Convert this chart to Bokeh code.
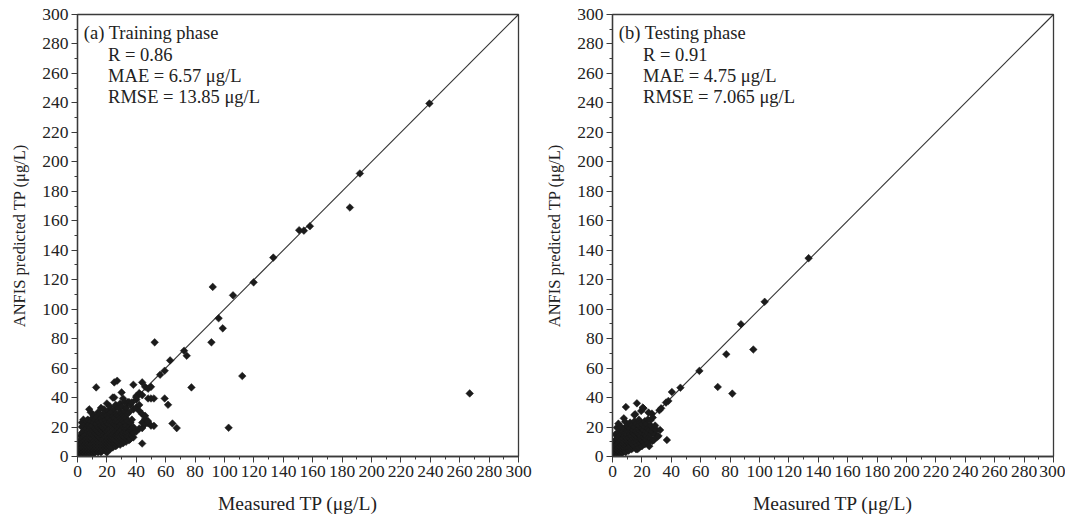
import math
from bokeh.plotting import figure
from bokeh.layouts import row
from bokeh.models import Range1d, SingleIntervalTicker, Label
from bokeh.embed import file_html
from bokeh.resources import INLINE

# ---------------- data ----------------
train_measured = [
    1, 1, 1, 1, 1,
    2, 2, 2, 2, 2, 2,
    3, 3, 3, 3, 3, 3, 3, 3, 3,
    4, 4, 4, 4, 4, 4, 4, 4, 4,
    5, 5, 5, 5, 5, 5, 5, 5,
    6, 6, 6, 6, 6, 6, 6, 6, 6,
    7, 7, 7, 7, 7, 7, 7, 7, 7,
    8, 8, 8, 8, 8, 8, 8, 8, 8, 8,
    9, 9, 9, 9, 9, 9, 9, 9, 9, 9,
    10, 10, 10, 10, 10, 10, 10, 10, 10,
    11, 11, 11, 11, 11, 11, 11, 11, 11,
    12, 12, 12, 12, 12, 12, 12, 12, 12, 12.7,
    13, 13, 13, 13, 13, 13, 13, 13, 13,
    14, 14, 14, 14, 14, 14, 14, 14, 14, 14,
    15, 15, 15, 15, 15, 15, 15, 15, 15,
    16, 16, 16, 16, 16, 16, 16, 16, 16, 16,
    17, 17, 17, 17, 17, 17, 17, 17, 17,
    18, 18, 18, 18, 18, 18, 18, 18, 18,
    19, 19, 19, 19, 19, 19, 19, 19, 19, 19,
    20, 20, 20, 20, 20, 20, 20, 20, 20, 20, 20,
    21, 21, 21, 21, 21, 21, 21, 21, 21,
    22, 22, 22, 22, 22, 22, 22, 22, 22, 22,
    23, 23, 23, 23, 23, 23, 23, 23, 23,
    24, 24, 24, 24, 24, 24, 24, 24, 24, 24,
    25, 25, 25, 25, 25, 25, 25, 25, 25, 25,
    26, 26, 26, 26, 26, 26, 26, 26, 26,
    27, 27, 27, 27, 27, 27, 27, 27, 27,
    28, 28, 28, 28, 28, 28, 28, 28,
    29, 29, 29, 29, 29, 29, 29, 29,
    30, 30, 30, 30, 30, 30, 30, 30, 30,
    31, 31, 31, 31, 31, 31, 31, 31,
    32, 32, 32, 32, 32, 32, 32, 32,
    33, 33, 33, 33, 33, 33, 33,
    34, 34, 34, 34, 34, 34, 34,
    35, 35, 35, 35, 35, 35,
    36, 36, 36, 36, 36,
    37, 37, 37, 37, 37,
    38, 38, 38, 38, 38,
    40, 40, 40, 40, 40,
    42, 42, 42, 42,
    44, 44, 44, 44, 44, 44,
    46, 46, 46, 46,
    48, 48, 48, 48,
    50, 50, 50,
    52, 52,
    52.5, 56.2, 59.3, 59.3, 61.6, 63.0, 64.6, 67.5, 72.5, 74.3, 77.5,
    91.1, 92.0, 96.0, 98.8, 102.8, 105.8, 112.1, 119.8, 133.2,
    150.8, 154.0, 158.1, 185.3, 192.1, 239.4, 266.8,
]
train_predicted = [
    0.5, 2, 4, 6, 9,
    1, 3, 5, 8, 11, 14,
    0.5, 2, 4, 6, 9, 12, 16, 20, 23,
    1, 3, 5, 7, 10, 13, 17, 21, 25,
    2, 4, 6, 8, 11, 14, 18, 22,
    1, 3, 5, 7, 9, 12, 15, 19, 24,
    2, 4, 6, 8, 10, 13, 17, 21, 25,
    1, 3, 5, 7, 9, 12, 14, 18, 22, 32,
    2, 4, 6, 8, 11, 13, 16, 20, 24, 30,
    3, 5, 7, 9, 12, 15, 18, 21, 26,
    2, 4, 6, 8, 10, 14, 17, 23, 28,
    3, 5, 7, 9, 11, 13, 16, 19, 25, 46.9,
    4, 6, 8, 10, 12, 15, 18, 22, 27,
    3, 5, 7, 9, 11, 14, 17, 20, 24, 30,
    4, 6, 8, 10, 13, 16, 19, 23, 29,
    3, 5, 7, 9, 12, 15, 18, 21, 26, 33,
    4, 6, 8, 11, 14, 17, 20, 24, 28,
    5, 7, 9, 12, 15, 19, 22, 27, 32,
    4, 6, 8, 10, 13, 16, 18, 21, 25, 30,
    2.7, 5, 7, 9, 11, 14, 17, 20, 23, 28, 36,
    6, 8, 10, 12, 15, 18, 22, 26, 31,
    5, 7, 9, 11, 13, 16, 19, 24, 29, 34,
    6, 8, 10, 12, 14, 17, 21, 25, 30,
    6.1, 9, 11, 13, 15, 18, 20, 23, 27, 40,
    8.4, 10, 12, 16, 19, 22, 26, 32, 40, 50.3,
    7, 9, 11, 14, 17, 21, 24, 29, 35,
    8, 10, 13, 15, 18, 20, 25, 28, 51.4,
    9, 12, 14, 16, 19, 23, 27, 33,
    8, 11, 13, 17, 21, 26, 30, 36,
    10, 12, 15, 18, 22, 25, 29, 34, 43.5,
    9, 11, 14, 16, 20, 24, 28, 39.4,
    11, 13, 17, 19, 23, 27, 31, 37,
    10, 12, 15, 18, 21, 26, 33,
    12, 14, 16, 19, 24, 29, 36.7,
    11, 13, 17, 20, 30, 37,
    12, 15, 18, 23, 35,
    14, 17.9, 19, 25, 36.7,
    13, 16, 20, 32, 48.7,
    17, 33.3, 38.5, 41, 40,
    19, 31, 35, 43,
    8.8, 19.3, 23, 28.8, 41.7, 50.3,
    22, 25.4, 27.6, 47.3,
    22.6, 24, 39.4, 46,
    21, 39.4, 47.3,
    20.8, 39.4,
    77.5, 55.5, 58.2, 39.4, 35.1, 65.2, 22.4, 19.3, 71.8, 68.4, 46.9,
    77.5, 115.1, 93.8, 87.0, 19.5, 109.4, 54.6, 118.2, 135.0,
    153.6, 153.3, 156.3, 169.0, 192.1, 239.6, 42.8,
]

test_measured = [
    1, 1, 1, 1,
    2, 2, 2, 2, 2,
    3, 3, 3, 3, 3, 3,
    4, 4, 4, 4, 4, 4, 4,
    5, 5, 5, 5, 5, 5,
    6, 6, 6, 6, 6, 6, 6,
    7, 7, 7, 7, 7, 7.7,
    8, 8, 8, 8, 8, 8, 8.6, 9.1,
    9, 9, 9, 9, 9,
    10, 10, 10, 10, 10, 10, 10,
    11, 11, 11, 11, 11, 11,
    12, 12, 12, 12, 12, 12,
    13, 13, 13, 13, 13, 13,
    14, 14, 14, 14, 14, 14.9,
    15, 15, 15, 15, 15, 15, 15.4,
    16, 16, 16, 16, 16, 16.6,
    17, 17, 17, 17, 17,
    18, 18, 18, 18, 18, 18,
    19, 19, 19, 19, 19, 19.5,
    20, 20, 20, 20, 20, 20.6, 21.1,
    21, 21, 21,
    22, 22, 22, 22, 22,
    23, 23, 23, 23,
    24, 24, 24, 24, 24.5,
    25, 25, 25, 25.8,
    26, 26, 26, 26.8,
    27, 27, 27.4,
    28, 28, 29, 29,
    30, 30, 31.3, 31.9, 32.4, 33.1,
    36.4, 37.0, 38.0, 40.4, 46.2, 59.1,
    71.6, 77.4, 81.5, 87.4, 95.8, 103.5, 133.4,
]
test_predicted = [
    1, 3, 6, 9,
    2, 4, 7, 11, 15,
    1, 3, 5, 8, 12, 19.6,
    2, 4, 6, 9, 13, 16, 22.3,
    3, 5, 7, 10, 14, 18,
    2, 4, 6, 8, 11, 15, 20,
    3, 5, 9, 12, 17, 25.9,
    4, 6, 8, 10, 14, 19, 23.6, 33.6,
    3, 7, 11, 13, 16,
    5, 8, 10, 12, 15, 18, 21,
    4, 6, 9, 13, 17, 20,
    7, 10, 12, 15, 19, 23,
    5, 9, 11, 14, 17, 21,
    6, 8, 12, 16, 18, 28.2,
    7, 10, 13, 15, 20, 24, 28.7,
    5, 9, 14, 17, 22, 36.1,
    4.9, 8, 11, 13, 16,
    6, 10, 15, 18, 21, 25,
    9, 12, 14, 17, 23, 30.9,
    7, 11, 16, 19, 22, 33.2, 32.7,
    10, 13, 18,
    8.3, 12, 15, 20, 24,
    11, 14, 17, 22,
    9, 16, 19, 25, 29.8,
    7, 13, 18, 24.6,
    12, 15, 21, 29.1,
    10.5, 17, 26.4,
    11, 19, 15.1, 21,
    13, 18, 13.9, 31.4, 18, 32.7,
    36.6, 11.2, 37.7, 43.8, 46.7, 58.1,
    47.2, 69.4, 42.7, 89.8, 72.6, 105.0, 134.6,
]

x_ticks_interval = 20
axis_range = (0, 300)
one_to_one = [0, 300]

panel_titles = ["(a) Training phase", "(b) Testing phase"]
panel_stats = [
    ["R = 0.86", "MAE = 6.57 \u03bcg/L", "RMSE = 13.85 \u03bcg/L"],
    ["R = 0.91", "MAE = 4.75 \u03bcg/L", "RMSE = 7.065 \u03bcg/L"],
]
x_label = "Measured TP (\u03bcg/L)"
y_label = "ANFIS predicted TP (\u03bcg/L)"

FONT = "Liberation Serif"
INK = "#1b1b1b"


def make_panel(xs, ys, title, stats, border_left, border_right):
    p = figure(
        frame_width=441, frame_height=442,
        min_border_left=border_left, min_border_right=border_right,
        min_border_top=14, min_border_bottom=58,
        x_range=Range1d(*axis_range), y_range=Range1d(*axis_range),
        output_backend="svg", toolbar_location=None,
        background_fill_color="white", border_fill_color="white",
    )
    p.grid.visible = False
    p.outline_line_color = "#3a3a3a"
    p.outline_line_width = 1.3
    p.outline_line_alpha = 1.0
    for ax in (p.xaxis[0], p.yaxis[0]):
        ax.ticker = SingleIntervalTicker(interval=x_ticks_interval, num_minor_ticks=2)
        ax.axis_line_color = "#3a3a3a"
        ax.axis_line_width = 1.3
        ax.major_tick_line_color = "#3a3a3a"
        ax.minor_tick_line_color = "#3a3a3a"
        ax.major_tick_out = 6
        ax.major_tick_in = 0
        ax.minor_tick_out = 3
        ax.minor_tick_in = 0
        ax.major_label_text_font = FONT
        ax.major_label_text_font_size = "17.5px"
        ax.major_label_text_color = "#222222"
        ax.major_label_standoff = 3
        ax.axis_label_text_font = FONT
        ax.axis_label_text_font_style = "normal"
        ax.axis_label_text_color = "#222222"
    p.xaxis.axis_label = x_label
    p.yaxis.axis_label = y_label
    p.xaxis.axis_label_text_font_size = "19.5px"
    p.yaxis.axis_label_text_font_size = "16.5px"
    p.xaxis.axis_label_standoff = 13
    p.yaxis.axis_label_standoff = 10

    p.line(one_to_one, one_to_one, line_color="#333333", line_width=1.1)
    p.scatter(xs, ys, marker="square", angle=math.pi / 4, size=5.4,
              fill_color=INK, line_color=INK, line_width=0.5)

    p.add_layout(Label(x=4.3, y=287.2, text=title, text_font=FONT,
                       text_font_size="18.5px", text_color="#222222",
                       text_baseline="middle"))
    for i, s in enumerate(stats):
        p.add_layout(Label(x=20.8, y=272.4 - 14.3 * i, text=s, text_font=FONT,
                           text_font_size="18.5px", text_color="#222222",
                           text_baseline="middle"))
    return p


p1 = make_panel(train_measured, train_predicted, panel_titles[0], panel_stats[0], 77, 24)
p2 = make_panel(test_measured, test_predicted, panel_titles[1], panel_stats[1], 69, 12)
layout = row(p1, p2)

open("out.html", "w").write(file_html(layout, INLINE))
